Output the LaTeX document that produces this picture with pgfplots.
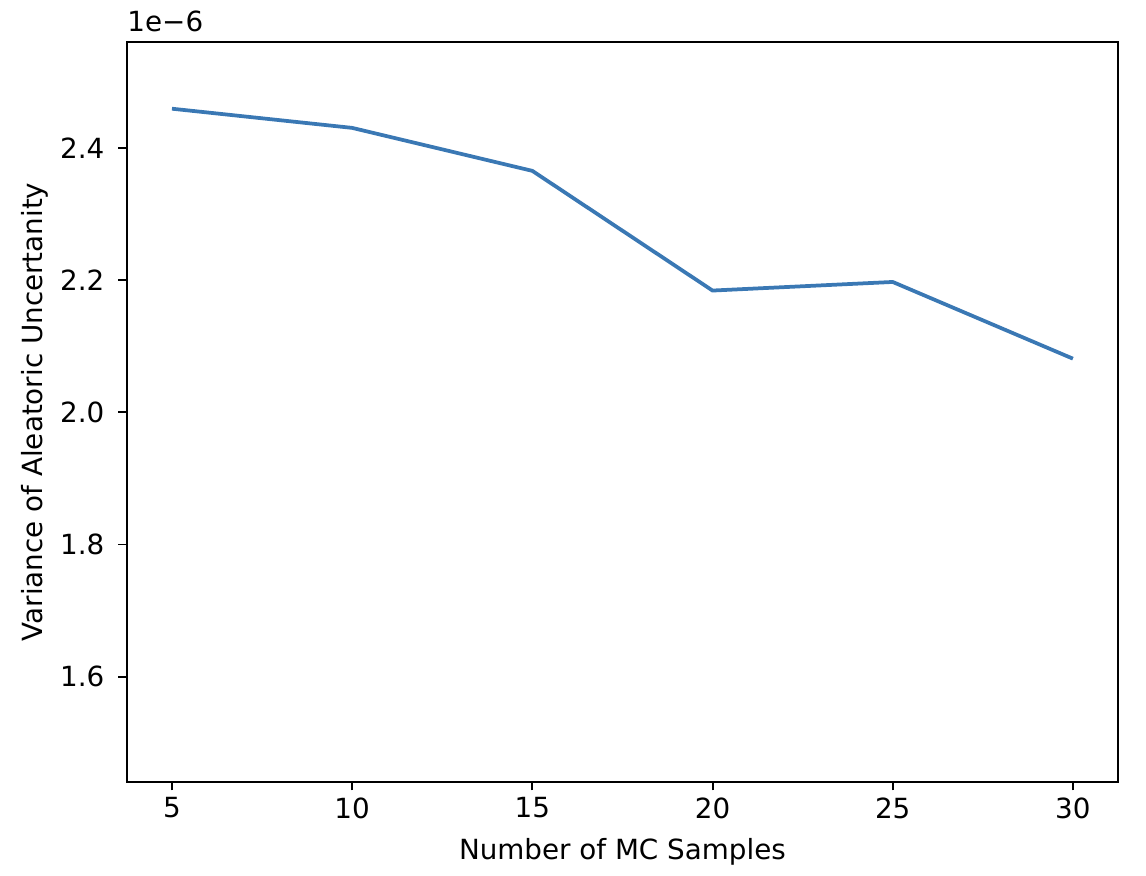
\documentclass[border=0pt]{standalone}
\usepackage{fontspec}
\setmainfont{DejaVu Sans}
\usepackage{pgfplots}
\pgfplotsset{compat=1.18}
\definecolor{lineblue}{RGB}{58,120,180}
\begin{document}
\fontsize{10}{12}\selectfont
\begin{tikzpicture}
\begin{axis}[
    name=ax,
    width=356.8pt, height=266.4pt,
    scale only axis,
    xmin=3.75, xmax=31.25,
    ymin=1.441, ymax=2.560,
    xtick={5,10,15,20,25,30},
    ytick={1.6,1.8,2.0,2.2,2.4},
    yticklabel style={xshift=-1.5pt, /pgf/number format/.cd,fixed,fixed zerofill,precision=1},
    /pgf/number format/assume math mode=true,
    tick align=outside,
    tick pos=left,
    major tick length=3.1pt,
    axis line style={line width=0.7pt},
    every tick/.style={line width=0.7pt, black},
    xlabel={Number of MC Samples},
    ylabel={Variance of Aleatoric Uncertanity},
    x label style={at={([yshift=-25.2pt]axis description cs:0.5,0)}, anchor=center},
    y label style={at={([xshift=-33.1pt]axis description cs:0,0.5)}, anchor=center},
    ticklabel style={font=\fontsize{10}{12}\selectfont},
    xticklabel style={yshift=1pt},
]
\addplot[lineblue, line width=1.35pt] coordinates {
    (5,2.459) (10,2.430) (15,2.365) (20,2.184) (25,2.197) (30,2.081)
};
\end{axis}
\node[anchor=south west, inner sep=0pt] at ([yshift=3.5pt]ax.north west) {1e\textminus 6};
\pgfresetboundingbox
\path ([xshift=-45.7pt,yshift=-33.8pt]ax.south west) rectangle ([xshift=10.1pt,yshift=15.1pt]ax.north east);
\end{tikzpicture}
\end{document}
